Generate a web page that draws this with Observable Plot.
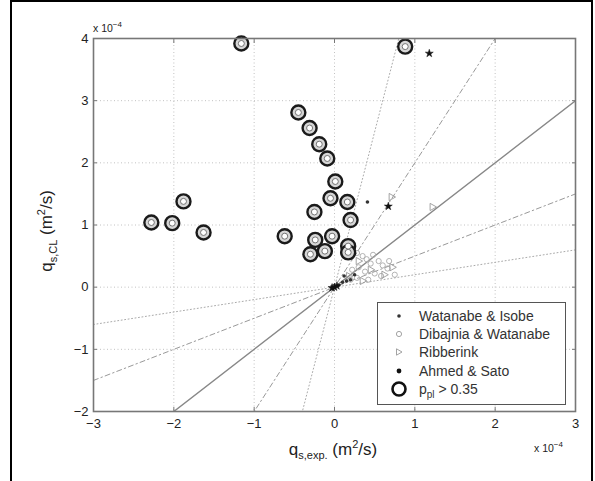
<!DOCTYPE html>
<html>
<head>
<meta charset="utf-8">
<script src="https://cdn.jsdelivr.net/npm/d3@7"></script>
<script src="https://cdn.jsdelivr.net/npm/@observablehq/plot@0.6"></script>
<style>
  html, body { margin: 0; padding: 0; background: #fff; }
  #wrap { position: relative; width: 595px; height: 481px; overflow: hidden; font-family: "Liberation Sans", Arial, sans-serif; color: #222; }
  #border { position: absolute; left: 10px; top: 0px; width: 579px; height: 490px; border: 2.5px solid #000; box-sizing: content-box; }
  #chart { position: absolute; left: 0; top: 0; }
  .lbl { position: absolute; white-space: nowrap; color: #222; }
  #legend { position: absolute; left: 377px; top: 302px; width: 187px; height: 101px; border: 1.3px solid #555; background: #fff; }
  .row { position: absolute; left: 0; height: 18px; font-size: 14px; line-height: 18px; }
  .row svg { position: absolute; left: 12px; top: 0; }
  .row span { position: absolute; left: 41px; top: 0; white-space: nowrap; color: #333; }
</style>
</head>
<body>
<div id="wrap">
  <div id="chart"></div>
  <div id="border"></div>
  <div class="lbl" style="left:93px; top:20px; font-size:10.5px;">x 10<sup style="font-size:8px;">−4</sup></div>
  <div class="lbl" style="left:534px; top:440px; font-size:10.5px;">x 10<sup style="font-size:8px;">−4</sup></div>
  <div class="lbl" id="xlab" style="left:333px; top:438px; transform:translateX(-50%); font-size:17px;">q<sub style="font-size:11px;">s,exp.</sub> (m<sup style="font-size:11px;">2</sup>/s)</div>
  <div class="lbl" id="ylab" style="left:47px; top:231px; transform:translate(-50%,-50%) rotate(-90deg); font-size:17px;">q<sub style="font-size:11px;">s,CL</sub> (m<sup style="font-size:11px;">2</sup>/s)</div>
  <div id="legend"></div>
</div>
<script>
// ---- data (units of 1e-4 m^2/s) ----
const xTicks = [-3, -2, -1, 0, 1, 2, 3];
const yTicks = [-2, -1, 0, 1, 2, 3, 4];
const slopesSolid = [1];
const slopesDashDot = [2, 0.5];
const slopesDotted = [5, 0.2];

const wiX = [0.41, 0.05, 0.10, 0.15, 0.20, 0.12, 0.25];
const wiY = [1.37, 0.03, 0.08, 0.10, 0.12, 0.18, 0.20];

const dwX = [0.28, 0.35, 0.40, 0.48, 0.45, 0.55, 0.60, 0.66, 0.75, 0.30, 0.22, 0.38, 0.50, 0.28, 0.42, 0.58, 0.68, 0.20];
const dwY = [0.55, 0.50, 0.45, 0.52, 0.38, 0.42, 0.35, 0.30, 0.20, 0.32, 0.28, 0.25, 0.22, 0.15, 0.12, 0.18, 0.42, 0.12];

const ribX = [1.22, 0.71, 0.30, 0.45, 0.62, 0.72, 0.18, 0.35];
const ribY = [1.29, 1.45, 0.42, 0.28, 0.20, 0.32, 0.18, 0.10];

const asX = [1.18, 0.67, 0.00, -0.03, 0.03];
const asY = [3.76, 1.30, 0.00, -0.01, 0.02];

const circX = [-1.16, 0.88, -0.45, -0.31, -0.19, -0.09, 0.01, -0.05, 0.16, 0.20, -0.25, -0.62, -0.24, -0.03, -0.30, -0.12, 0.17, 0.17, -1.88, -2.28, -2.02, -1.63];
const circY = [3.92, 3.87, 2.81, 2.56, 2.30, 2.07, 1.70, 1.43, 1.37, 1.08, 1.21, 0.82, 0.76, 0.82, 0.53, 0.58, 0.66, 0.56, 1.38, 1.04, 1.03, 0.88];

const legendLabels = ["Watanabe & Isobe", "Dibajnia & Watanabe", "Ribberink", "Ahmed & Sato", "p_pl > 0.35"];

// ---- helpers ----
const pts = (xs, ys) => xs.map((x, i) => ({x, y: ys[i]}));
const lineData = (slopes) => slopes.flatMap(s => xTicks.filter((d, i) => i === 0 || i === xTicks.length - 1).map(x => ({s, x, y: s * x})));
const fmt = d => d < 0 ? "\u2212" + (-d) : String(d);
const triRight = {
  draw(context, size) {
    const r = Math.sqrt(size / 2);
    context.moveTo(r, 0);
    context.lineTo(-r * 0.6, -r * 0.9);
    context.lineTo(-r * 0.6, r * 0.9);
    context.closePath();
  }
};

const chart = Plot.plot({
  width: 595,
  height: 481,
  marginLeft: 93,
  marginRight: 20,
  marginTop: 38,
  marginBottom: 70,
  style: {fontFamily: "Liberation Sans, Arial, sans-serif", fontSize: "12px", color: "#222", background: "transparent"},
  x: {domain: [-3, 3], label: null},
  y: {domain: [-2, 4], label: null},
  marks: [
    Plot.gridX(xTicks, {stroke: "#aaa", strokeOpacity: 0.9, strokeDasharray: "1,2.5", strokeWidth: 0.8}),
    Plot.gridY(yTicks, {stroke: "#aaa", strokeOpacity: 0.9, strokeDasharray: "1,2.5", strokeWidth: 0.8}),
    Plot.line(lineData(slopesDotted), {x: "x", y: "y", z: "s", stroke: "#aaa", strokeWidth: 1, strokeDasharray: "1,2.5", clip: true}),
    Plot.line(lineData(slopesDashDot), {x: "x", y: "y", z: "s", stroke: "#999", strokeWidth: 1, strokeDasharray: "5,3,1.5,3", clip: true}),
    Plot.line(lineData(slopesSolid), {x: "x", y: "y", z: "s", stroke: "#888", strokeWidth: 1.4, clip: true}),
    Plot.dot(pts(dwX, dwY), {x: "x", y: "y", r: 2.6, stroke: "#aaa", strokeWidth: 0.9, fill: "none"}),
    Plot.dot(pts(ribX, ribY), {x: "x", y: "y", r: 3.2, symbol: triRight, stroke: "#999", strokeWidth: 0.9, fill: "none"}),
    Plot.dot(pts(wiX, wiY), {x: "x", y: "y", r: 1.8, fill: "#333", stroke: "none"}),
    Plot.dot(pts(asX, asY), {x: "x", y: "y", r: 2.5, symbol: "star", fill: "#111", stroke: "#111", strokeWidth: 0.5}),
    Plot.dot(pts(circX, circY), {x: "x", y: "y", r: 7, fill: "#d6d6d6", stroke: "#1a1a1a", strokeWidth: 2.4}),
    Plot.dot(pts(circX, circY), {x: "x", y: "y", r: 3, fill: "#fff", stroke: "#666", strokeWidth: 0.9}),
    Plot.frame({stroke: "#777", strokeWidth: 1.6}),
    Plot.axisX(xTicks, {anchor: "bottom", tickSize: 0, tickPadding: 7, tickFormat: fmt, fill: "#222", fontSize: 13}),
    Plot.axisY(yTicks, {anchor: "left", tickSize: 0, tickPadding: 5, tickFormat: fmt, fill: "#222", fontSize: 13}),
    Plot.axisX(xTicks, {anchor: "bottom", tickSize: -4, tickFormat: () => "", stroke: "#777"}),
    Plot.axisX(xTicks, {anchor: "top", tickSize: -4, tickFormat: () => "", stroke: "#777"}),
    Plot.axisY(yTicks, {anchor: "left", tickSize: -4, tickFormat: () => "", stroke: "#777"}),
    Plot.axisY(yTicks, {anchor: "right", tickSize: -4, tickFormat: () => "", stroke: "#777"})
  ]
});
document.getElementById("chart").appendChild(chart);

// ---- legend ----
const legendSymbols = [
  '<circle cx="9" cy="9" r="1.8" fill="#333"/>',
  '<circle cx="9" cy="9" r="2.6" fill="none" stroke="#999" stroke-width="0.9"/>',
  '<path d="M12,9 L6.5,5.8 L6.5,12.2 Z" fill="none" stroke="#999" stroke-width="0.9"/>',
  '<circle cx="9" cy="9" r="2.4" fill="#111"/>',
  '<circle cx="9" cy="9" r="6.5" fill="none" stroke="#111" stroke-width="2.6"/>'
];
const legend = document.getElementById("legend");
legendLabels.forEach((lab, i) => {
  const row = document.createElement("div");
  row.className = "row";
  row.style.top = (4 + i * 18.2) + "px";
  const text = lab === "p_pl > 0.35" ? 'p<sub style="font-size:10px;">pl</sub> &gt; 0.35' : lab.replace("&", "&amp;");
  row.innerHTML = '<svg width="18" height="18">' + legendSymbols[i] + '</svg><span>' + text + '</span>';
  legend.appendChild(row);
});
</script>
</body>
</html>
